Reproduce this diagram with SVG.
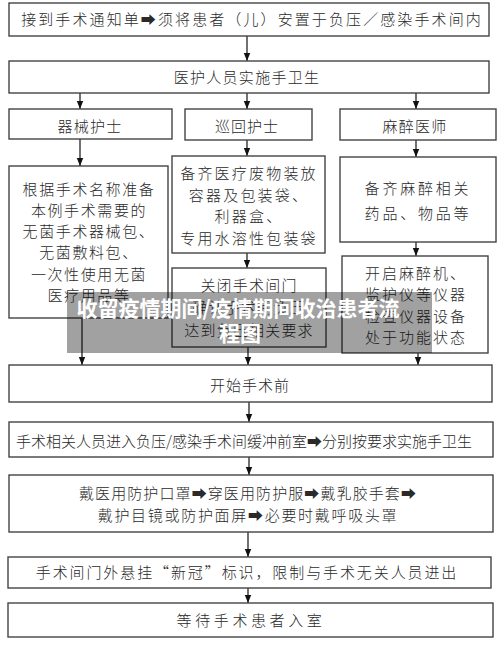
<svg xmlns="http://www.w3.org/2000/svg" width="500" height="646" viewBox="0 0 500 646">
<defs>
<style>
.box{fill:#fff;stroke:#444;stroke-width:1.4}
.t{font-family:"Noto Sans CJK SC","DejaVu Sans",sans-serif;font-size:15px;font-weight:300;fill:#2a2a2a;text-anchor:middle}
.c{stroke:#111;stroke-width:1.2;fill:none;marker-end:url(#ah)}
.wm{font-family:"Noto Sans CJK SC","DejaVu Sans",sans-serif;font-size:21px;font-weight:700;fill:#fff;text-anchor:middle}
</style>
<marker id="ah" markerUnits="userSpaceOnUse" markerWidth="8" markerHeight="8" viewBox="0 0 8 8" refX="8" refY="4" orient="auto">
<path d="M0,0.8 L8,4 L0,7.2 z" fill="#111"/>
</marker>
</defs>
<rect width="500" height="646" fill="#fff"/>
<g id="connectors">
<line class="c" x1="247" y1="36" x2="247" y2="61"/>
<line class="c" x1="80" y1="93" x2="80" y2="109"/>
<line class="c" x1="247" y1="93" x2="247" y2="109"/>
<line class="c" x1="416" y1="93" x2="416" y2="109"/>
<line class="c" x1="80" y1="139" x2="80" y2="166"/>
<line class="c" x1="247" y1="140" x2="247" y2="156"/>
<line class="c" x1="416" y1="140" x2="416" y2="157"/>
<line class="c" x1="247" y1="253" x2="247" y2="268"/>
<line class="c" x1="416" y1="242" x2="416" y2="256"/>
<line class="c" x1="82" y1="318" x2="82" y2="365"/>
<line class="c" x1="248" y1="347" x2="248" y2="365"/>
<line class="c" x1="418" y1="353" x2="418" y2="365"/>
<line class="c" x1="249" y1="402" x2="249" y2="422"/>
<line class="c" x1="249" y1="457" x2="249" y2="475"/>
<line class="c" x1="248" y1="532" x2="248" y2="557"/>
<line class="c" x1="248" y1="588" x2="248" y2="603"/>
</g>
<g id="n1"><rect class="box" x="9" y="3" width="480" height="33"/><text class="t" x="252" y="25" letter-spacing="2.1">接到手术通知单➡须将患者（儿）安置于负压／感染手术间内</text></g>
<g id="n2"><rect class="box" x="9" y="61" width="480" height="32"/><text class="t" x="247" y="83" letter-spacing="1.3">医护人员实施手卫生</text></g>
<g id="n3"><rect class="box" x="9" y="109" width="163" height="30"/><text class="t" x="90" y="132" letter-spacing="1.3">器械护士</text></g>
<g id="n4"><rect class="box" x="185" y="109" width="127" height="31"/><text class="t" x="247" y="132" letter-spacing="1">巡回护士</text></g>
<g id="n5"><rect class="box" x="340" y="109" width="156" height="31"/><text class="t" x="415" y="132" letter-spacing="1.3">麻醉医师</text></g>
<g id="n6"><rect class="box" x="9" y="166" width="159" height="152"/>
<text class="t" x="89" y="194.5" letter-spacing="1.6">根据手术名称准备</text>
<text class="t" x="89" y="215.5" letter-spacing="1.6">本例手术需要的</text>
<text class="t" x="89" y="237" letter-spacing="1.6">无菌手术器械包、</text>
<text class="t" x="89" y="258" letter-spacing="1.6">无菌敷料包、</text>
<text class="t" x="89" y="279.5" letter-spacing="1.6">一次性使用无菌</text>
<text class="t" x="89" y="300.5" letter-spacing="1.6">医疗用品等</text></g>
<g id="n7"><rect class="box" x="172" y="156" width="153" height="97"/>
<text class="t" x="249" y="179" letter-spacing="2.2">备齐医疗废物装放</text>
<text class="t" x="249" y="200.5" letter-spacing="2.2">容器及包装袋、</text>
<text class="t" x="249" y="222" letter-spacing="2.2">利器盒、</text>
<text class="t" x="249" y="243.5" letter-spacing="2.2">专用水溶性包装袋</text></g>
<g id="n8"><rect class="box" x="340" y="157" width="156" height="85"/>
<text class="t" x="418" y="193.5" letter-spacing="2.8">备齐麻醉相关</text>
<text class="t" x="418" y="218.5" letter-spacing="2.8">药品、物品等</text></g>
<g id="n9"><rect class="box" x="172" y="268" width="154" height="79"/>
<text class="t" x="249" y="290.5" letter-spacing="1.2">关闭手术间门</text>
<text class="t" x="249" y="313" letter-spacing="1.2">确认手术间负压</text>
<text class="t" x="249" y="335.5" letter-spacing="1.2">达到负压相关要求</text></g>
<g id="n10"><rect class="box" x="342" y="256" width="146" height="97"/>
<text class="t" x="416" y="278.5" letter-spacing="2">开启麻醉机、</text>
<text class="t" x="416" y="300" letter-spacing="2">监护仪等仪器</text>
<text class="t" x="416" y="321.5" letter-spacing="2">检查仪器设备</text>
<text class="t" x="416" y="343" letter-spacing="2">处于功能状态</text></g>
<g id="n11"><rect class="box" x="9" y="365" width="483" height="37"/><text class="t" x="250" y="391" letter-spacing="1">开始手术前</text></g>
<g id="n12"><rect class="box" x="9" y="422" width="484" height="35"/><text class="t" x="244" y="447" letter-spacing="0">手术相关人员进入负压/感染手术间缓冲前室➡分别按要求实施手卫生</text></g>
<g id="n13"><rect class="box" x="9" y="475" width="484" height="57"/>
<text class="t" x="248" y="498.5" letter-spacing="1.1">戴医用防护口罩➡穿医用防护服➡戴乳胶手套➡</text>
<text class="t" x="248" y="520.5" letter-spacing="1.7">戴护目镜或防护面屏➡必要时戴呼吸头罩</text></g>
<g id="n14"><rect class="box" x="8" y="557" width="483" height="31"/><text class="t" x="247" y="577.5" letter-spacing="1.9">手术间门外悬挂“新冠”标识，限制与手术无关人员进出</text></g>
<g id="n15"><rect class="box" x="8" y="603" width="485" height="34"/><text class="t" x="251" y="625.5" letter-spacing="3.6">等待手术患者入室</text></g>
<g id="watermark">
<rect x="67" y="292" width="365" height="61" fill="#000" fill-opacity="0.37"/>
<text class="wm" x="238" y="316">收留疫情期间/疫情期间收治患者流</text>
<text class="wm" x="240" y="341">程图</text>
</g>
</svg>
